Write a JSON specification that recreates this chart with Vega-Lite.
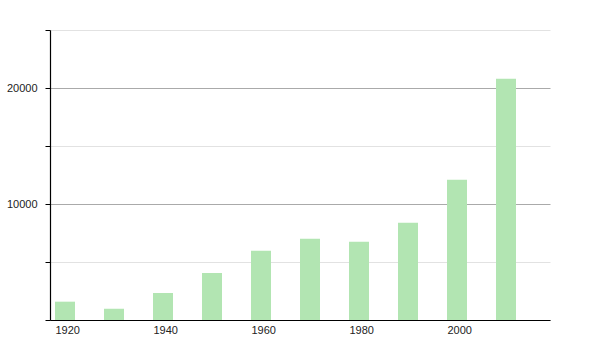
{
  "$schema": "https://vega.github.io/schema/vega-lite/v6.json",
  "width": 500,
  "height": 290,
  "autosize": {"type": "none"},
  "padding": {"left": 50, "top": 30, "right": 50, "bottom": 30},
  "background": "white",
  "config": {"view": {"stroke": null}},
  "data": {"values": [
    {"year": 1920, "population": 1580},
    {"year": 1930, "population": 970},
    {"year": 1940, "population": 2330},
    {"year": 1950, "population": 4050},
    {"year": 1960, "population": 5970},
    {"year": 1970, "population": 7010},
    {"year": 1980, "population": 6750},
    {"year": 1990, "population": 8390},
    {"year": 2000, "population": 12090},
    {"year": 2010, "population": 20800}
  ]},
  "mark": {"type": "bar", "size": 20, "xOffset": 10, "color": "#b2e5b2"},
  "encoding": {
    "x": {
      "field": "year", "type": "quantitative",
      "scale": {"domain": [1920, 2020], "nice": false, "zero": false},
      "axis": {
        "title": null, "values": [1920, 1940, 1960, 1980, 2000], "format": "d",
        "labelAlign": "left", "ticks": false, "grid": false,
        "domainColor": "#000", "domainWidth": 1.2, "labelPadding": 4,
        "labelFont": "Liberation Sans", "labelFontSize": 11, "labelColor": "#222"
      }
    },
    "y": {
      "field": "population", "type": "quantitative",
      "scale": {"domain": [0, 25000], "nice": false},
      "axis": {
        "title": null, "values": [0, 5000, 10000, 15000, 20000, 25000],
        "labelExpr": "datum.value % 10000 === 0 && datum.value > 0 ? datum.label : ''",
        "format": "d",
        "grid": true,
        "gridColor": {"condition": {"test": "datum.value % 10000 === 0", "value": "#aaaaaa"}, "value": "#e2e2e2"},
        "domainColor": "#000", "domainWidth": 1.2,
        "tickColor": "#000", "tickSize": 5, "labelPadding": 8,
        "labelFont": "Liberation Sans", "labelFontSize": 11, "labelColor": "#222"
      }
    }
  }
}
